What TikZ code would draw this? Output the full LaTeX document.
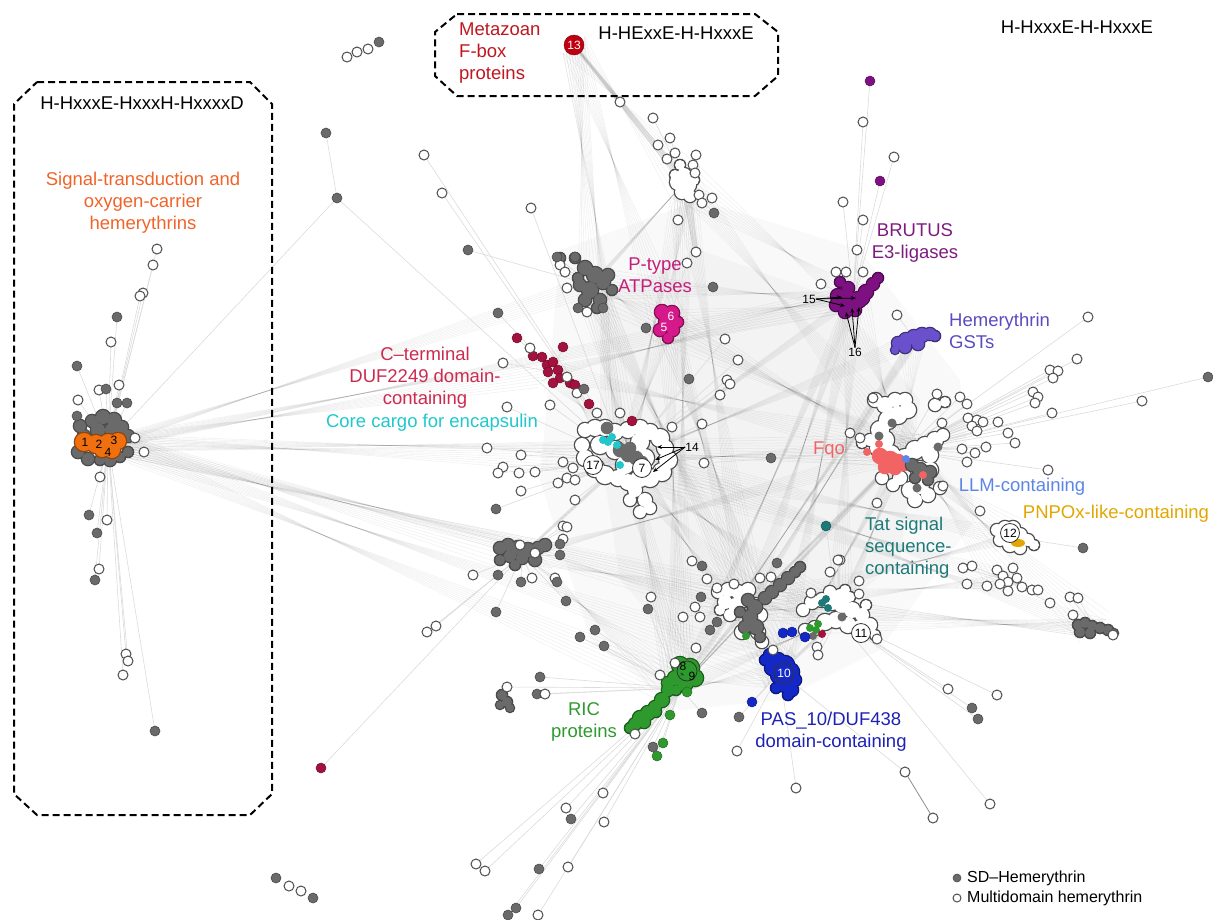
\documentclass[tikz,border=0pt]{standalone}
\usepackage{fontspec}
\setmainfont{Liberation Sans}
\usetikzlibrary{calc,arrows.meta}
\pgfdeclarelayer{bg}
\pgfsetlayers{bg,main}
\definecolor{ngray}{HTML}{6A6A6A}
\definecolor{ngrayd}{HTML}{4A4A4A}
\definecolor{wline}{HTML}{4D4D4D}
\definecolor{corange}{HTML}{F07010}
\definecolor{lorange}{HTML}{F0642A}
\definecolor{cmag}{HTML}{D6198A}
\definecolor{lmag}{HTML}{C41E7A}
\definecolor{cpur}{HTML}{7E1182}
\definecolor{lpur}{HTML}{7D1B7E}
\definecolor{cgst}{HTML}{6A50CC}
\definecolor{lgst}{HTML}{5A4CC0}
\definecolor{ccrim}{HTML}{A3123E}
\definecolor{lcrim}{HTML}{CC2A50}
\definecolor{ccyan}{HTML}{20C8CC}
\definecolor{csalm}{HTML}{F26464}
\definecolor{cllm}{HTML}{5B86E5}
\definecolor{cgold}{HTML}{E3A600}
\definecolor{cteal}{HTML}{1E7A78}
\definecolor{cgreen}{HTML}{2E9A2E}
\definecolor{cpas}{HTML}{1428C8}
\definecolor{lpas}{HTML}{1E22B4}
\definecolor{cred}{HTML}{C00010}
\definecolor{lred}{HTML}{C0161F}
\newcommand\myblob[3]{%
  \foreach \bx/\by/\br in {#3}{\fill[#2] (\bx,\by) circle[radius={(\br+1.3)*1pt}];}
  \foreach \bx/\by/\br in {#3}{\fill[#1] (\bx,\by) circle[radius={\br*1pt}];}
}
\newcommand\mydots[3]{%
  \foreach \dx/\dy in {#3}{\fill[#1] (\dx,\dy) circle[radius={#2*1pt}];}
}
\def\scatlist{
157/249/wnode/OR,153/265/wnode/OR,143/293/wnode/OR,140/296/wnode/OR,117/317/gnode/OR,111/342/wnode/OR,
77/366/gnode/OR,99/390/wnode/OR,106/389/gnode/OR,119/385/wnode/OR,78/400/wnode/OR,117/403/gnode/OR,
127/403/gnode/OR,77/416/gnode/OR,100/477/wnode/OR,89/515/gnode/OR,107/520/wnode/OR,97/533/gnode/OR,
99/569/wnode/OR,95/580/gnode/OR,126/654/wnode/OR,128/661/wnode/OR,123/675/wnode/OR,155/731/gnode/OR,
135/438/wnode/OR,144/452/wnode/OR,
326/133/gnode/X1,424/155/wnode/CW,442/193/wnode/CW,531/208/wnode/CW,468/250/gnode/UG,
620/102/wnode/TW,653/118/wnode/TW,670/138/wnode/TW,658/145/wnode/TW,667/159/wnode/TW,675/153/wnode/TW,
696/155/wnode/TW,693/165/wnode/TW,695/173/wnode/TW,699/195/wnode/TW,702/203/wnode/TW,712/198/wnode/TW,
714/213/gnode/TW,678/220/wnode/TW,696/252/wnode/TW,687/263/wnode/MG,713/287/gnode/UG,
870/81/pnode/BR,863/122/wnode/BR,894/157/wnode/BR,880/181/pnode/BR,843/202/wnode/BR,863/220/wnode/BR,
857/250/wnode/BR,821/284/wnode/BR,836/272/wnode/BR,846/272/wnode/BR,863/272/wnode/BR,897/315/wnode/GS,
1088/317/wnode/RW,1077/359/wnode/RW,1050/370/wnode/RW,1058/371/wnode/RW,1053/378/wnode/RW,
1208/377/gnode/RW,1142/401/wnode/RW,1033/392/wnode/RW,1038/397/wnode/RW,1035/403/wnode/RW,1052/413/wnode/RW,
937/394/wnode/RW,960/397/wnode/RW,967/404/wnode/RW,942/423/wnode/RW,968/418/wnode/RW,977/420/wnode/RW,
972/426/wnode/RW,983/422/wnode/RW,977/431/wnode/RW,998/422/wnode/RW,1008/433/wnode/RW,1015/443/wnode/RW,
962/449/wnode/RW,975/453/wnode/RW,986/447/wnode/RW,967/462/wnode/RW,1048/470/wnode/RW,980/511/wnode/RW,
877/503/wnode/RW,850/433/wnode/RW,860/438/wnode/RW,943/486/wnode/RW,873/398/wnode/RW,
826/526/tnode/LR,840/560/wnode/LR,1083/548/gnode/PT,771/458/gnode/RW,
963/568/wnode/RS,972/566/wnode/RS,967/584/wnode/RS,987/586/wnode/RS,997/570/wnode/RS,1003/576/wnode/RS,
1008/582/wnode/RS,1013/568/wnode/RS,1017/578/wnode/RS,1000/584/wnode/RS,1008/591/wnode/RS,1022/587/wnode/RS,
1032/590/wnode/RS,1038/590/wnode/RS,1050/603/wnode/RS,1070/597/wnode/RK,1078/598/wnode/RK,1073/615/wnode/RK,1113/635/wnode/RK,
567/288/wnode/UG,560/265/wnode/UG,565/272/wnode/UG,587/312/wnode/UG,603/308/gnode/UG,578/308/gnode/UG,557/257/gnode/UG,575/257/gnode/UG,
646/328/gnode/MG,498/313/gnode/DU,
517/338/cnode/DU,563/347/cnode/DU,533/356/cnode/DU,542/357/cnode/DU,547/365/cnode/DU,553/362/cnode/DU,
558/370/cnode/DU,548/372/cnode/DU,560/378/cnode/DU,553/383/cnode/DU,570/383/cnode/DU,575/385/cnode/DU,
589/404/cnode/CW,632/421/cnode/CW,
530/348/wnode/DU,503/363/wnode/DU,567/377/wnode/DU,577/393/wnode/CW,584/389/gnode/CW,550/405/wnode/CW,
507/407/wnode/CW,597/413/wnode/CW,620/413/wnode/CW,
725/339/wnode/CW,738/360/wnode/CW,727/380/wnode/CW,730/384/wnode/CW,720/395/wnode/CW,689/379/gnode/CW,
672/427/wnode/CW,702/424/wnode/CW,704/463/wnode/RW,487/448/wnode/CW,521/455/wnode/CW,503/467/wnode/CW,
498/473/wnode/CW,519/473/wnode/CW,535/472/wnode/CW,563/462/wnode/CW,573/468/wnode/CW,558/483/wnode/CW,
567/478/wnode/CW,575/480/wnode/CW,521/491/wnode/CW,575/500/wnode/CW,496/509/gnode/CW,563/526/wnode/GM,
567/527/wnode/GM,563/539/wnode/GM,560/544/gnode/GM,560/555/gnode/GM,520/545/wnode/GM,535/553/wnode/GM,
473/575/wnode/GM,498/575/gnode/GM,521/582/gnode/GM,532/578/wnode/GM,555/578/wnode/GM,557/582/gnode/GM,
566/601/gnode/GM,496/612/gnode/GM,427/632/wnode/GM,436/626/wnode/GM,540/677/gnode/GR,507/687/wnode/GR,
692/561/wnode/LC,702/566/gnode/LC,707/579/wnode/LC,717/588/wnode/LC,734/584/wnode/LC,651/597/wnode/GR,
648/609/gnode/GR,695/607/wnode/LC,700/617/wnode/LC,683/617/wnode/LC,701/597/gnode/LC,717/622/gnode/LC,
710/630/gnode/LC,696/648/wnode/GR,773/650/wnode/LC,580/637/gnode/GR,595/630/gnode/GR,604/646/gnode/GR,
537/694/gnode/GR,545/694/wnode/GR,777/563/gnode/LC,760/578/wnode/LC,771/577/wnode/LC,
811/593/wnode/LR,830/572/wnode/LR,838/560/wnode/LR,859/581/wnode/LR,859/594/wnode/LR,817/647/wnode/LR,
818/655/wnode/LR,877/639/wnode/LR,783/633/bnode/LR,792/632/bnode/LR,805/637/bnode/LR,
660/675/wnode/GR,675/663/wnode/GR,687/692/grnode/GR,670/715/grnode/GR,702/713/gnode/GR,739/717/gnode/BL,
752/702/bnode/BL,635/734/wnode/GR,663/743/grnode/GR,653/747/gnode/GR,657/756/grnode/GR,737/751/wnode/BL,
948/689/wnode/LR,997/695/wnode/LR,972/708/gnode/LR,978/719/gnode/LR,796/788/wnode/BL,990/804/wnode/LR,
603/793/wnode/GR,566/808/wnode/GR,571/819/gnode/GR,604/822/wnode/GR,476/864/wnode/GR,485/871/wnode/GR,
539/869/gnode/GR,568/867/wnode/GR,516/908/gnode/GR,508/915/gnode/GR,538/915/wnode/GR,321/768/cnode/GM}
\begin{document}
\begin{tikzpicture}[x=1pt,y=-1pt,
  base/.style={circle,inner sep=0pt,minimum size=10pt,line width=1pt},
  gnode/.style={base,fill=ngray,draw=ngrayd,line width=0.6pt},
  wnode/.style={base,fill=white,draw=wline},
  pnode/.style={base,fill=cpur,draw=cpur!70!black,line width=0.5pt},
  tnode/.style={base,fill=cteal,draw=cteal!70!black,line width=0.5pt},
  bnode/.style={base,fill=cpas,draw=cpas!70!black,line width=0.5pt},
  cnode/.style={base,fill=ccrim,draw=ccrim!70!black,line width=0.5pt},
  grnode/.style={base,fill=cgreen,draw=cgreen!70!black,line width=0.5pt},
  lnk/.style={draw=black!14,line width=0.6pt},
  mesh/.style={draw=black,draw opacity=0.055,line width=0.6pt},
  lbl/.style={inner sep=0pt,align=center,font=\fontsize{18.5}{22}\selectfont},
  numc/.style={circle,draw=black!80,fill=white,inner sep=0pt,minimum size=19pt,line width=0.8pt,font=\fontsize{12}{12}\selectfont},
  sml/.style={inner sep=0pt,font=\fontsize{12}{12}\selectfont},
  arr/.style={-{Stealth[length=5pt,width=4pt]},line width=0.8pt,black},
  box/.style={draw=black,line width=2pt,dash pattern=on 7pt off 4pt}
]
\useasboundingbox (0,0) rectangle (1213,919);

% hubs
\coordinate (A13) at (574,45);
\coordinate (TW) at (685,182);
\coordinate (UG) at (592,285);
\coordinate (MG) at (668,325);
\coordinate (BR) at (853,298);
\coordinate (GS) at (915,340);
\coordinate (CW) at (625,460);
\coordinate (RW) at (905,450);
\coordinate (DU) at (553,372);
\coordinate (LC) at (750,605);
\coordinate (LR) at (838,618);
\coordinate (GR) at (680,688);
\coordinate (BL) at (780,672);
\coordinate (GM) at (522,555);
\coordinate (RK) at (1095,628);
\coordinate (PT) at (1012,537);
\coordinate (OR) at (108,443);
\coordinate (RS) at (1005,580);
\coordinate (X1) at (337,198);
\coordinate (V1) at (905,772);
\coordinate (V2) at (933,818);

\foreach \x/\y/\t/\h [count=\i] in \scatlist {\coordinate (s\i) at (\x,\y);}

% haze, mesh and links
\begin{pgfonlayer}{bg}
\fill[black,opacity=0.025] (560,250) -- (700,200) -- (860,250) -- (960,380) -- (975,520) -- (880,650) -- (780,700) -- (680,710) -- (590,640) -- (540,480) -- cycle;
\fill[black,opacity=0.025] (600,300) -- (700,250) -- (840,300) -- (920,400) -- (900,560) -- (800,640) -- (690,660) -- (620,580) -- (600,450) -- cycle;
\foreach \a/\b in {CW/RW,CW/BR,CW/UG,CW/MG,CW/LC,CW/LR,CW/GR,CW/BL,CW/GS,CW/TW,
  RW/BR,RW/UG,RW/MG,RW/LC,RW/LR,RW/GR,RW/BL,RW/GS,RW/RK,RW/PT,RW/RS,
  BR/UG,BR/MG,BR/LC,BR/LR,BR/GR,BR/BL,BR/TW,UG/MG,UG/LC,UG/GR,UG/BL,UG/TW,
  MG/LC,MG/GR,MG/BL,MG/TW,LC/LR,LC/GR,LC/BL,LR/GR,LR/BL,GR/BL,
  GM/CW,GM/LC,GM/GR,GM/RW,DU/CW,DU/RW,DU/BR,A13/TW,A13/MG,A13/UG,A13/CW,
  TW/LC,TW/GR,TW/RW,RK/LC,RK/LR,RK/CW,RS/LC,RS/CW,PT/CW,PT/LC,GS/LC,GS/GR,
  OR/CW,OR/RW,OR/LC,OR/GR,OR/BR,OR/GM,OR/UG,OR/DU,OR/LR,OR/BL}{
  \foreach \o in {-12,-9,-6,-3,0,3,6,9,12}{
    \draw[mesh] ($(\a)+(0.9*\o,-0.7*\o)$) -- ($(\b)+(-1.2*\o,1.3*\o)$);
  }
}
\foreach \o in {-4,-2,0,2,4}{
  \draw[draw=black,draw opacity=0.12,line width=1pt] ($(A13)+(0.3*\o,0)$) -- ($(TW)+(\o,0)$) -- ($(s46)+(0.5*\o,0)$);
}
\draw[lnk] (X1) -- (OR);
\draw[lnk] (X1) -- (CW);
\draw[lnk] (V1) -- (BL);
\draw[draw=black!45,line width=0.8pt] (V1) -- (V2);
\foreach \x/\y/\t/\h [count=\i] in \scatlist {\draw[lnk] (s\i) -- (\h);}
\end{pgfonlayer}

% dashed boxes
\draw[box] (37,82) -- (250,82) -- (272,104) -- (272,794) -- (250,815) -- (37,815) -- (14,794) -- (14,104) -- cycle;
\draw[box] (457,14) -- (755,14) -- (778,32) -- (778,76) -- (755,96) -- (457,96) -- (435,76) -- (435,32) -- cycle;

% ---------- blobs ----------
\myblob{ngray}{ngrayd}{80/426/6,92/421/6,103/417/7,114/420/7,122/427/6,128/436/6,78/452/6,88/459/6,100/460/5,110/460/6,120/457/5,128/452/5,98/430/7,112/430/7,84/436/6}
\myblob{corange}{corange!60!black}{84/442/9,96/444/9,108/443/9,112/450/8,118/441/8,102/450/7}
\myblob{ngray}{ngrayd}{560/258/5,575/258/5,585/268/7,595/275/8,603/282/7,590/290/8,585/300/6,600/300/6,608/275/6,612/290/5,580/285/6,597/308/5,578/278/5}
\myblob{cmag}{cmag!60!black}{662/312/7,672/313/7,668/322/9,660/330/6,673/330/6,668/338/5,678/322/5}
\myblob{cpur}{cpur!60!black}{840/282/5,848/288/6,838/296/7,848/300/9,858/300/8,866/292/7,873/284/6,878/278/5,845/312/6,855/310/6,836/305/6,862/298/7}
\myblob{cgst}{cgst!60!black}{898/343/6,906/340/7,914/337/7,922/335/7,930/334/6,935/336/5,905/347/6,918/344/6,895/350/4}
\myblob{white}{wline}{680/165/5,684/175/7,678/182/8,688/185/8,682/192/7,690/196/6,694/180/5,675/175/5}
\myblob{white}{wline}{585/430/7,595/428/8,605/428/8,615/432/8,628/430/8,640/428/8,650/432/8,660/438/9,665/448/8,668/460/9,662/472/9,650/478/9,640/478/9,628/482/8,618/478/8,605/475/9,595/468/9,585/458/8,582/445/7,600/445/9,615/450/9,630/455/9,645/458/9,640/442/9,625/465/9,635/490/7,645/500/7,640/512/6,650/508/6,630/500/6}
\myblob{ngray}{ngray}{607/428/5,620/450/6,628/455/6,636/458/6,630/448/5,642/462/5}
\mydots{ccyan}{4}{603/440,608/442,617/445,620/465,612/437}
\myblob{white}{wline}{875/400/7,885/405/8,895/400/7,905/400/7,908/410/8,898/415/9,888/420/9,880/430/9,885/440/9,878/448/8,890/455/10,905/458/9,915/450/9,925/445/8,935/440/8,943/435/6,930/455/8,920/470/9,930/470/8,920/485/9,910/490/8,915/500/7,928/495/7,940/488/6,900/478/7,893/485/6,882/478/6,935/405/6,945/402/5,870/440/6,862/443/5}
\myblob{csalm}{csalm}{880/456/7,890/460/8,898/462/7,885/467/6,895/468/6,904/465/5}
\myblob{ngray}{ngrayd}{912/465/6,920/470/7,930/472/6,928/480/5,915/478/5}
\mydots{csalm}{4}{867/452,879/444,923/475}
\mydots{cllm}{4}{906/459}
\mydots{ngray}{4.5}{892/423,879/436,938/447,917/488}
\myblob{white}{wline}{997/530/6,1005/528/7,1013/528/7,1020/535/7,1028/540/6,1034/545/5,1000/540/6,1010/545/7,1020/548/6}
\fill[cgold] (1018,543) ellipse[x radius=7pt,y radius=4pt];
\myblob{ngray}{ngrayd}{500/548/6,508/545/6,518/548/7,528/550/7,538/548/6,545/545/6,510/556/6,522/558/6,535/560/6,500/560/5,515/565/5}
\myblob{white}{wline}{718/592/6,728/590/7,738/592/7,748/590/7,725/602/7,735/605/7,745/600/7,755/605/7,760/615/7,750/625/7,742/632/7,758/632/7,762/642/6,730/615/6,720/610/5}
\myblob{ngray}{ngrayd}{748/600/6,755/607/7,750/617/7,745/627/6,756/627/7,760/637/5,740/612/5,765/598/6,772/592/6,780/585/6,788/578/6,795/572/5,800/567/5}
\mydots{cgreen}{4}{746/636}
\myblob{white}{wline}{803/610/6,812/602/7,822/600/7,832/602/8,842/605/8,852/610/8,862/615/7,870/625/7,860/628/8,848/625/8,836/620/8,825/622/8,815/628/7,805/630/6,840/595/6,850/597/5,875/635/5,845/590/5,830/592/6,866/605/5}
\mydots{cteal}{4}{822/603,828/608,826/599}
\mydots{cgreen}{4}{810/628,816/630,818/624}
\mydots{ngray}{4}{813/636}
\mydots{ccrim}{4}{822/634}
\mydots{ngray}{4.5}{842/617}
\myblob{cgreen}{cgreen!60!black}{680/665/8,690/668/9,695/678/8,685/683/8,675/678/7,668/690/6,662/700/7,655/707/6,648/713/7,640/718/7,635/724/6,630/728/5,644/722/6,656/712/5,668/683/6,676/690/5}
\myblob{cpas}{cpas!60!black}{770/655/6,778/660/7,785/665/9,790/672/9,780/675/9,772/668/7,785/685/7,792/690/6,788/695/5,795/680/6,765/660/5,776/688/5}
\myblob{ngray}{ngrayd}{1078/625/5,1085/623/5,1092/626/5,1100/628/5,1108/630/5,1114/633/4,1090/633/5,1080/632/5}
\myblob{ngray}{ngrayd}{502/695/5,507/702/5,510/708/4,500/705/4}

% ---------- scattered nodes ----------
\foreach \x/\y/\t/\h [count=\i] in \scatlist {\node[\t] (n\i) at (s\i) {};}
\node[wnode] (t1) at (347,57) {};
\node[wnode] (t2) at (357,52) {};
\node[wnode] (t3) at (368,49) {};
\node[gnode] (t4) at (379,42) {};
\node[gnode] (b1) at (276,878) {};
\node[wnode] (b2) at (289,886) {};
\node[wnode] (b3) at (301,891) {};
\node[gnode] (b4) at (313,898) {};
\node[gnode] (x1) at (X1) {};
\node[wnode] (v1) at (V1) {};
\node[wnode] (v2) at (V2) {};

% ---------- numbered markers ----------
\node[circle,fill=cred,draw=cred!60!black,inner sep=0pt,minimum size=20pt,text=white,font=\fontsize{12}{12}\selectfont] (n13) at (A13) {13};
\node[sml] (m1) at (85,442) {1};
\node[sml] (m2) at (99,444) {2};
\node[sml] (m3) at (114,440) {3};
\node[sml] (m4) at (108,452) {4};
\node[sml,text=white] (m6) at (671,316) {6};
\node[sml,text=white] (m5) at (664,327) {5};
\node[numc] (m17) at (593,465) {17};
\node[numc] (m7) at (642,468) {7};
\node[numc] (m11) at (861,633) {11};
\node[numc] (m12) at (1010,533) {12};
\node[circle,draw=black!80,inner sep=0pt,minimum size=20pt,line width=0.8pt] (m89) at (687,671) {};
\node[sml] (m8) at (683,666) {8};
\node[sml] (m9) at (692,676) {9};
\node[circle,draw=black!80,inner sep=0pt,minimum size=20pt,line width=0.8pt,text=white,font=\fontsize{12}{12}\selectfont] (m10) at (784,673) {10};

% arrows
\node[sml] (l14) at (692,447) {14};
\coordinate (a14a) at (657,447);
\coordinate (a14b) at (655,460);
\coordinate (a14c) at (653,472);
\draw[arr] (l14.west) -- (a14a);
\draw[arr] (l14.west) -- (a14b);
\draw[arr] (l14.west) -- (a14c);
\node[sml] (l15) at (809,299) {15};
\coordinate (a15a) at (842,297);
\coordinate (a15b) at (856,298);
\coordinate (a15c) at (845,306);
\draw[arr] (l15.east) -- (a15a);
\draw[arr] (l15.east) -- (a15b);
\draw[arr] (l15.east) -- (a15c);
\node[sml] (l16) at (855,352) {16};
\coordinate (a16a) at (846,312);
\coordinate (a16b) at (852,308);
\coordinate (a16c) at (859,307);
\draw[arr] (l16.north) -- (a16a);
\draw[arr] (l16.north) -- (a16b);
\draw[arr] (l16.north) -- (a16c);

% ---------- labels ----------
\node[lbl] (hl) at (142,103) {H-HxxxE-HxxxH-HxxxxD};
\node[lbl,text=lorange] (sig) at (143,203) {Signal-transduction and\\oxygen-carrier\\hemerythrins};
\node[lbl,text=lred,anchor=west,align=left] (fbox) at (459,53) {Metazoan\\F-box\\proteins};
\node[lbl] (ht) at (676,33) {H-HExxE-H-HxxxE};
\node[lbl] (hr) at (1077,27) {H-HxxxE-H-HxxxE};
\node[lbl,text=lpur] (brut) at (915,243) {BRUTUS\\E3-ligases};
\node[lbl,text=lmag] (ptyp) at (655,275) {P-type\\ATPases};
\node[lbl,text=lgst,anchor=west,align=left] (gst) at (949,331) {Hemerythrin\\GSTs};
\node[lbl,text=lcrim] (duf) at (425,378) {C--terminal\\DUF2249 domain-\\containing};
\node[lbl,text=ccyan] (enc) at (432,423) {Core cargo for encapsulin};
\node[lbl,text=csalm] (fqo) at (829,450) {Fqo};
\node[lbl,text=cllm] (llm) at (1022,487) {LLM-containing};
\node[lbl,text=cgold] (pnp) at (1116,514) {PNPOx-like-containing};
\node[lbl,text=cteal,anchor=west,align=left] (tat) at (865,548) {Tat signal\\sequence-\\containing};
\node[lbl,text=cgreen] (ric) at (584,722) {RIC\\proteins};
\node[lbl,text=lpas] (pas) at (831,732) {PAS\_10/DUF438\\domain-containing};

% legend
\node[gnode,minimum size=8pt] (lg1) at (957,878) {};
\node[wnode,minimum size=8pt] (lg2) at (957,898) {};
\node[anchor=west,inner sep=0pt,font=\fontsize{16}{18}\selectfont] (lt1) at (967,878) {SD--Hemerythrin};
\node[anchor=west,inner sep=0pt,font=\fontsize{16}{18}\selectfont] (lt2) at (967,898) {Multidomain hemerythrin};
\end{tikzpicture}
\end{document}
